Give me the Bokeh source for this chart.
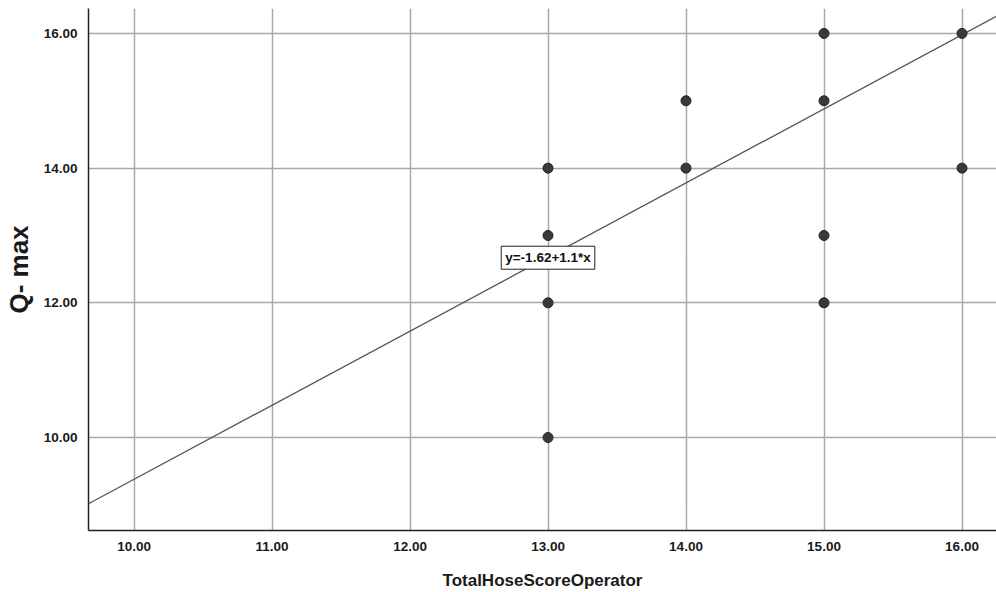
from bokeh.plotting import figure
from bokeh.models import Range1d, Label, FixedTicker
from bokeh.embed import file_html
from bokeh.resources import INLINE

x_vals = [13, 13, 13, 13, 14, 14, 15, 15, 15, 15, 16, 16]
y_vals = [14, 13, 12, 10, 15, 14, 16, 15, 13, 12, 16, 14]
intercept = -1.62
slope = 1.1
x_ticks = [10, 11, 12, 13, 14, 15, 16]
y_ticks = [10, 12, 14, 16]
eq_text = "y=-1.62+1.1*x"

x0, x1 = 9.67, 16.25
y0, y1 = 8.62, 16.37

p = figure(width=996, height=592, output_backend="svg", toolbar_location=None,
           x_range=Range1d(x0, x1), y_range=Range1d(y0, y1),
           min_border_left=88, min_border_right=0, min_border_top=8, min_border_bottom=62)
p.outline_line_color = None
p.background_fill_color = "white"

for ax in (p.xaxis[0], p.yaxis[0]):
    ax.axis_line_color = "#222222"
    ax.axis_line_width = 1.5
    ax.major_tick_line_color = None
    ax.minor_tick_line_color = None
    ax.major_label_text_font = "Liberation Sans"
    ax.major_label_text_font_size = "13.5px"
    ax.major_label_text_font_style = "bold"
    ax.major_label_text_color = "#1a1a1a"
    ax.axis_label_text_font = "Liberation Sans"
    ax.axis_label_text_font_style = "bold"
    ax.axis_label_text_color = "#1a1a1a"

p.xaxis.ticker = FixedTicker(ticks=x_ticks)
p.yaxis.ticker = FixedTicker(ticks=y_ticks)
p.xaxis.major_label_overrides = {t: f"{t:.2f}" for t in x_ticks}
p.yaxis.major_label_overrides = {t: f"{t:.2f}" for t in y_ticks}
p.xaxis.major_label_standoff = 5
p.yaxis.major_label_standoff = 5
p.xaxis.axis_label = "TotalHoseScoreOperator"
p.xaxis.axis_label_text_font_size = "17px"
p.xaxis.axis_label_standoff = 17
p.yaxis.axis_label = "Q- max"
p.yaxis.axis_label_text_font_size = "26px"
p.yaxis.axis_label_standoff = 7

p.xgrid.grid_line_color = "#a8a8a8"
p.ygrid.grid_line_color = "#a8a8a8"
p.xgrid.grid_line_width = 1.5
p.ygrid.grid_line_width = 1.5

lx = [x0, x1]
ly = [intercept + slope * v for v in lx]
p.line(lx, ly, line_color="#555555", line_width=1.3)

p.scatter(x_vals, y_vals, size=10, fill_color="#3a3a3a", line_color="#222222")

lab = Label(x=13, y=12.67, text=eq_text, text_font="Liberation Sans", text_font_size="13.5px",
            text_font_style="bold", text_align="center", text_baseline="middle",
            text_color="#111111",
            background_fill_color="white", border_line_color="#222222", border_line_width=1,
            padding=4)
p.add_layout(lab)

open("out.html", "w").write(file_html(p, INLINE))
